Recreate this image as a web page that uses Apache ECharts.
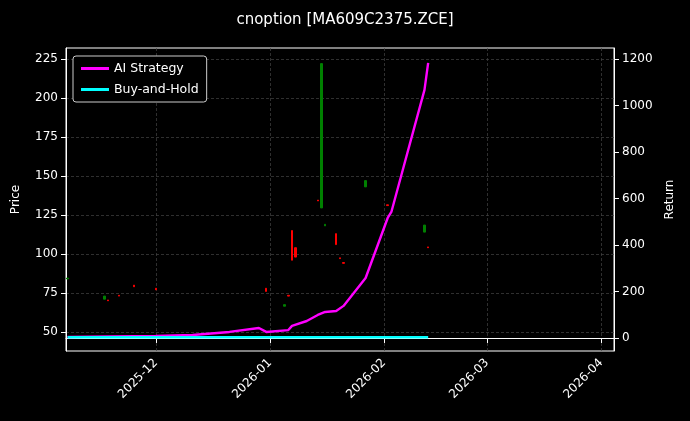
<!DOCTYPE html>
<html><head><meta charset="utf-8">
<script src="https://cdn.jsdelivr.net/npm/echarts@6/dist/echarts.min.js"></script>
<style>html,body{margin:0;background:#000}#main{width:690px;height:421px}</style>
</head><body><div id="main"></div>
<script>
// 日K数据: 日期, 开, 收, 低, 高
var candleDates = ['2025-11-07','2025-11-17','2025-11-18','2025-11-21','2025-11-25','2025-12-01','2025-12-31','2026-01-05','2026-01-06','2026-01-07','2026-01-08','2026-01-14','2026-01-15','2026-01-16','2026-01-19','2026-01-20','2026-01-21','2026-01-27','2026-02-02','2026-02-12','2026-02-13'];
var candleOpen  = [84, 71, 70.5, 73.5, 80, 78, 78, 66.5, 73.5, 115, 104, 134.5, 129.5, 118, 113, 97.5, 94.5, 143, 131.5, 114, 104.5];
var candleClose = [84.5, 73, 70, 73, 79, 77, 76, 67.5, 73, 96, 98, 134, 222, 119, 106, 97, 94, 147, 131, 118.5, 104];
var retDates = ['2025-11-07','2025-12-01','2025-12-11','2025-12-21','2025-12-29','2025-12-31','2026-01-06','2026-01-07','2026-01-11','2026-01-14','2026-01-16','2026-01-19','2026-01-21','2026-01-27','2026-02-02','2026-02-03','2026-02-12','2026-02-13'];
var aiReturn  = [4, 9, 13, 26, 43, 26, 34, 52, 73, 99, 112, 116, 138, 258, 516, 542, 1067, 1183];
var bhReturn  = [3, 3, 3, 3, 3, 3, 3, 3, 3, 3, 3, 3, 3, 3, 3, 3, 3, 3];
var priceTicks = [50, 75, 100, 125, 150, 175, 200, 225];
var returnTicks = [0, 200, 400, 600, 800, 1000, 1200];
var monthTicks = ['2025-12-01','2026-01-01','2026-02-01','2026-03-01','2026-04-01'];

var ts = function (s) { return +new Date(s + 'T00:00:00Z'); };
var candles = candleDates.map(function (d, i) {
  var o = candleOpen[i], c = candleClose[i];
  return [ts(d), o, c, Math.min(o, c), Math.max(o, c)];
});

var chart = echarts.init(document.getElementById('main'));
var grid = { color: '#444', type: [3, 2], width: 0.7 };
chart.setOption({
  backgroundColor: '#000',
  textStyle: { fontFamily: 'DejaVu Sans' },
  title: { text: 'cnoption [MA609C2375.ZCE]', left: 'center', top: 8,
    textStyle: { color: '#fff', fontSize: 15, fontWeight: 'normal' } },
  legend: {
    left: 73, top: 56, orient: 'vertical', itemGap: 8,
    backgroundColor: '#000', borderColor: '#ccc', borderWidth: 1, borderRadius: 3, padding: [6, 8],
    itemWidth: 28, itemHeight: 3, textStyle: { color: '#fff', fontSize: 12.5 },
    data: [{ name: 'AI Strategy', icon: 'rect' }, { name: 'Buy-and-Hold', icon: 'rect' }]
  },
  grid: { left: 66, right: 76, top: 48, bottom: 70, show: true, borderColor: '#fff', borderWidth: 1 },
  xAxis: {
    type: 'value', min: ts('2025-11-06') + 14 * 3600e3, max: ts('2026-04-04') + 12 * 3600e3,
    axisLine: { lineStyle: { color: '#fff' } },
    axisTick: { show: true, customValues: monthTicks.map(ts), lineStyle: { color: '#fff' } },
    axisLabel: { color: '#fff', fontSize: 12, rotate: 45, margin: 10, customValues: monthTicks.map(ts),
      formatter: function (v) { var d = new Date(v); return d.getUTCFullYear() + '-' + ('0' + (d.getUTCMonth() + 1)).slice(-2); } },
    splitLine: { show: true, lineStyle: grid }
  },
  yAxis: [{
    type: 'value', min: 37.8, max: 232, name: 'Price', nameLocation: 'middle', nameGap: 44,
    nameTextStyle: { color: '#fff', fontSize: 12 },
    axisLine: { show: true, lineStyle: { color: '#fff' } },
    axisTick: { show: true, customValues: priceTicks, lineStyle: { color: '#fff' } },
    axisLabel: { color: '#fff', fontSize: 12, customValues: priceTicks },
    splitLine: { show: true, lineStyle: grid }
  }, {
    type: 'value', min: -56, max: 1247, name: 'Return', nameLocation: 'middle', nameGap: 50,
    nameTextStyle: { color: '#fff', fontSize: 12 },
    axisLine: { show: true, lineStyle: { color: '#fff' } },
    axisTick: { show: true, customValues: returnTicks, lineStyle: { color: '#fff' } },
    axisLabel: { color: '#fff', fontSize: 12, customValues: returnTicks, formatter: function (v) { return String(v); } },
    splitLine: { show: false }
  }],
  series: [{
    type: 'candlestick', name: 'Price', yAxisIndex: 0, barWidth: 2,
    itemStyle: { color: '#008000', color0: '#ff0000', borderColor: '#008000', borderColor0: '#ff0000', borderWidth: 1 },
    data: candles
  }, {
    type: 'line', name: 'AI Strategy', yAxisIndex: 1, showSymbol: false,
    lineStyle: { color: '#ff00ff', width: 2.4 }, itemStyle: { color: '#ff00ff' },
    data: retDates.map(function (d, i) { return [ts(d), aiReturn[i]]; })
  }, {
    type: 'line', name: 'Buy-and-Hold', yAxisIndex: 1, showSymbol: false,
    lineStyle: { color: '#00ffff', width: 2.4 }, itemStyle: { color: '#00ffff' },
    data: retDates.map(function (d, i) { return [ts(d), bhReturn[i]]; })
  }]
});
</script></body></html>
